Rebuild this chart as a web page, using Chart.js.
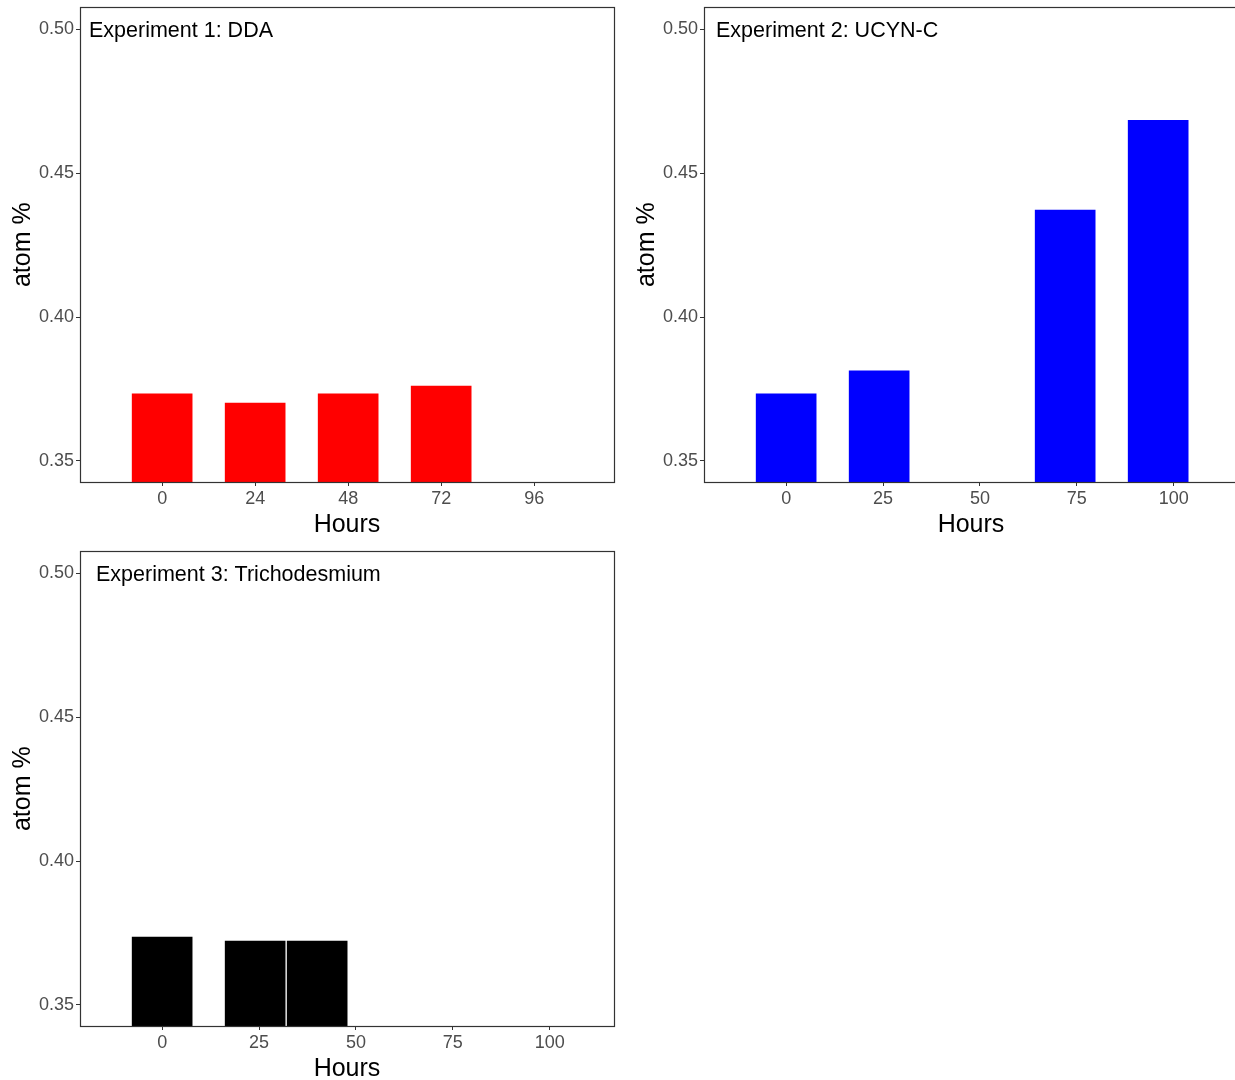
<!DOCTYPE html>
<html>
<head>
<meta charset="utf-8">
<script src="https://cdn.jsdelivr.net/npm/chart.js@4.4.1/dist/chart.umd.min.js"></script>
<style>
html, body { margin: 0; padding: 0; background: #fff; overflow: hidden; width: 1235px; height: 1080px; }
.panel { position: absolute; }
</style>
</head>
<body>
<div class="panel" style="left:0;top:0;"><canvas id="c1" width="620" height="540"></canvas></div>
<div class="panel" style="left:624px;top:0;"><canvas id="c2" width="620" height="540"></canvas></div>
<div class="panel" style="left:0;top:544px;"><canvas id="c3" width="620" height="540"></canvas></div>
<script>
// データ
const yTicks = [0.35, 0.40, 0.45, 0.50];

const hours1 = [0, 24, 48, 72];
const atom1 = [0.3733, 0.3701, 0.3733, 0.3760];
const xTicks1 = [0, 24, 48, 72, 96];

const hours2 = [0, 24, 72, 96];
const atom2 = [0.3733, 0.3813, 0.4372, 0.4684];
const xTicks2 = [0, 25, 50, 75, 100];

const hours3 = [0, 24, 40];
const atom3 = [0.3736, 0.3722, 0.3722];
const xTicks3 = [0, 25, 50, 75, 100];

const FONT = '"Liberation Sans", Arial, sans-serif';

// 枠線とパネルラベル
const panelPlugin = {
	id: 'panelBox',
	afterDraw(chart, args, opts) {
		const {ctx, chartArea: a} = chart;
		ctx.save();
		ctx.strokeStyle = '#333333';
		ctx.lineWidth = 1.2;
		ctx.strokeRect(Math.round(a.left) + 0.5, Math.round(a.top) + 0.5, Math.round(a.right - a.left), Math.round(a.bottom - a.top));
		ctx.fillStyle = '#000000';
		ctx.font = '21.5px ' + FONT;
		ctx.textBaseline = 'alphabetic';
		ctx.fillText(opts.text, a.left + opts.dx, a.top + 30);
		ctx.restore();
	}
};

function makePanel(id, hours, values, xTicks, color, label, dx) {
	new Chart(document.getElementById(id), {
		type: 'bar',
		data: {
			datasets: [{
				data: hours.map((h, i) => ({x: h, y: values[i]})),
				backgroundColor: color,
				borderWidth: 0,
				barThickness: 60
			}]
		},
		options: {
			responsive: false,
			animation: false,
			layout: { padding: { top: 7, right: 6, left: 0, bottom: 0 } },
			plugins: {
				legend: { display: false },
				tooltip: { enabled: false },
				panelBox: { text: label, dx: dx }
			},
			scales: {
				x: {
					type: 'linear',
					offset: false,
					min: -21.2,
					max: 116.6,
					afterBuildTicks: s => { s.ticks = xTicks.map(v => ({value: v})); },
					afterFit: s => { s.height = 58; },
					grid: { offset: false, drawOnChartArea: false, drawTicks: true, tickLength: 4, color: '#333333' },
					border: { color: '#333333', width: 1 },
					ticks: {
						color: '#4d4d4d',
						font: { family: FONT, size: 18 },
						padding: 2,
						maxRotation: 0,
						autoSkip: false,
						callback: v => String(v)
					},
					title: {
						display: true,
						text: 'Hours',
						color: '#000000',
						font: { family: FONT, size: 25 },
						padding: { top: 0, bottom: 0 }
					}
				},
				y: {
					min: 0.3427,
					max: 0.5076,
					afterBuildTicks: s => { s.ticks = yTicks.map(v => ({value: v})); },
					afterFit: s => { s.width = 80; },
					grid: { drawOnChartArea: false, drawTicks: true, tickLength: 4, color: '#333333' },
					border: { color: '#333333', width: 1 },
					ticks: {
						color: '#4d4d4d',
						font: { family: FONT, size: 18, lineHeight: 0.6 },
						padding: 2,
						callback: v => v.toFixed(2)
					},
					title: {
						display: true,
						text: 'atom %',
						color: '#000000',
						font: { family: FONT, size: 25 },
						padding: { top: 8, bottom: 0 }
					}
				}
			}
		},
		plugins: [panelPlugin]
	});
}

makePanel('c1', hours1, atom1, xTicks1, '#ff0000', 'Experiment 1: DDA', 9);
makePanel('c2', hours2, atom2, xTicks2, '#0000ff', 'Experiment 2: UCYN-C', 12);
makePanel('c3', hours3, atom3, xTicks3, '#000000', 'Experiment 3: Trichodesmium', 16);
</script>
</body>
</html>
